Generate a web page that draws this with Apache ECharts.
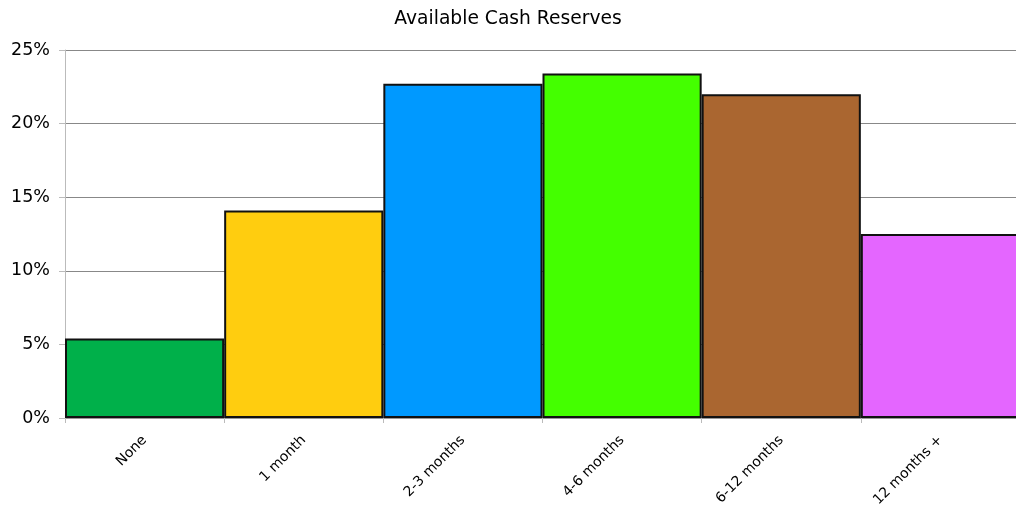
<!DOCTYPE html>
<html>
<head>
<meta charset="utf-8">
<script src="https://cdn.jsdelivr.net/npm/echarts@6/dist/echarts.min.js"></script>
<style>
  html, body { margin: 0; padding: 0; background: #fff; }
  #chart { width: 1016px; height: 508px; }
</style>
</head>
<body>
<div id="chart"></div>
<script>
// Share of respondents by months of cash on hand
const categories = ['None', '1 month', '2-3 months', '4-6 months', '6-12 months', '12 months +'];
const shares = [5.4, 14.1, 22.7, 23.4, 22.0, 12.5];
const barColors = ['#00b04a', '#ffcd0f', '#0099ff', '#44ff00', '#aa6630', '#e466ff'];
const yTicks = [0, 5, 10, 15, 20, 25];

const chart = echarts.init(document.getElementById('chart'), null, { renderer: 'canvas' });
const font = 'DejaVu Sans';

chart.setOption({
  animation: false,
  backgroundColor: '#fff',
  title: {
    text: 'Available Cash Reserves',
    left: 'center',
    top: 5,
    textStyle: { fontFamily: font, fontSize: 18.7, fontWeight: 'normal', color: '#000' }
  },
  // the last column runs past the right edge of the canvas
  grid: { left: 65, top: 50, width: 955, height: 368, containLabel: false, outerBoundsMode: 'none' },
  xAxis: {
    type: 'category',
    data: categories,
    boundaryGap: true,
    axisLine: { lineStyle: { color: '#999', width: 1 } },
    axisTick: { show: true, length: 5, lineStyle: { color: '#bbb' } },
    axisLabel: { rotate: 45, margin: 20, fontFamily: font, fontSize: 14, color: '#000' }
  },
  yAxis: {
    type: 'value',
    min: yTicks[0],
    max: yTicks[yTicks.length - 1],
    interval: 5,
    axisLine: { show: true, lineStyle: { color: '#bbb', width: 1 } },
    axisTick: { show: true, length: 6, lineStyle: { color: '#bbb' } },
    axisLabel: { formatter: '{value}%', margin: 15, fontFamily: font, fontSize: 17.5, color: '#000' },
    splitLine: { show: true, lineStyle: { color: '#888', width: 1.2 } }
  },
  series: [{
    type: 'bar',
    data: shares.map((v, i) => ({ value: v, itemStyle: { color: barColors[i] } })),
    barWidth: '100%',
    barCategoryGap: 0,
    itemStyle: { borderColor: '#111', borderWidth: 2 }
  }]
});
</script>
</body>
</html>
